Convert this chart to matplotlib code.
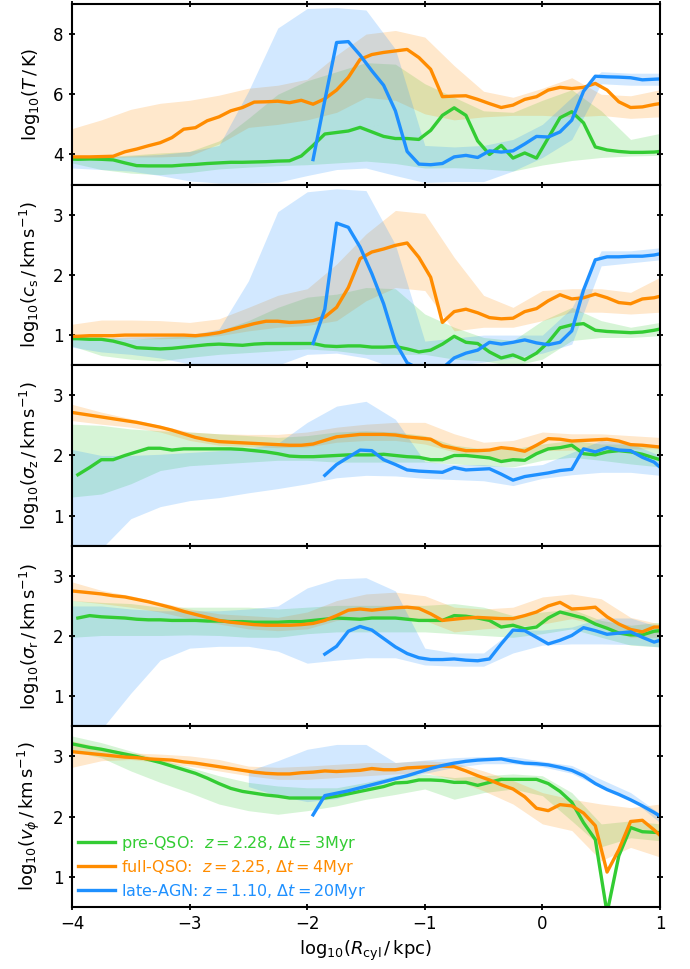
import numpy as np
import matplotlib
matplotlib.use("Agg")
import matplotlib.pyplot as plt

nan = np.nan

# radial grid of the profiles (bin centres) and coarser grid of the scatter bands
x_line = np.round(np.arange(-4.05, 1.06, 0.1), 2)
x_band = np.linspace(-4.0, 1.0, 21)

names = ["pre-QSO:  $z=2.28$, $\\Delta t=3$Myr",
         "full-QSO:  $z=2.25$, $\\Delta t=4$Myr",
         "late-AGN: $z=1.10$, $\\Delta t=20$Myr"]
colors = ["#33cc33", "#ff8c00", "#1e90ff"]

# ---- log T
T_green = [3.85, 3.84, 3.85, 3.84, 3.82, 3.72, 3.63, 3.62, 3.62, 3.62,
           3.65, 3.67, 3.70, 3.72, 3.74, 3.74, 3.75, 3.76, 3.78, 3.79,
           3.95, 4.30, 4.68, 4.73, 4.78, 4.90, 4.75, 4.60, 4.53, 4.53,
           4.50, 4.80, 5.30, 5.55, 5.30, 4.45, 4.00, 4.30, 3.88, 4.05,
           3.88, 4.55, 5.22, 5.42, 5.05, 4.25, 4.15, 4.10, 4.07, 4.07,
           4.08, 4.12]
T_orange = [3.92, 3.92, 3.92, 3.93, 3.94, 4.09, 4.18, 4.29, 4.39, 4.56,
            4.84, 4.89, 5.12, 5.25, 5.45, 5.56, 5.74, 5.75, 5.77, 5.72,
            5.80, 5.67, 5.85, 6.14, 6.56, 7.16, 7.32, 7.39, 7.44, 7.49,
            7.22, 6.83, 5.92, 5.94, 5.95, 5.83, 5.69, 5.56, 5.64, 5.83,
            5.92, 6.14, 6.23, 6.19, 6.23, 6.36, 6.14, 5.75, 5.56, 5.58,
            5.66, 5.72]
T_blue = [nan] * 21 + [3.83, 5.80, 7.72, 7.75, 7.30, 6.78, 6.30, 5.45, 4.10,
                       3.68, 3.66, 3.70, 3.92, 3.97, 3.90, 4.12, 4.08, 4.12, 4.35,
                       4.60, 4.58, 4.75, 5.14, 6.10, 6.60, 6.58, 6.57, 6.55, 6.48,
                       6.50, 6.52]
T_green_lo = [3.72, 3.50, 3.38, 3.33, 3.40, 3.52, 3.58, 3.63, 3.66, 3.72, 3.78,
              3.70, 3.55, 3.56, 3.52, 3.45, 3.65, 3.80, 3.90, 3.95, 3.97]
T_green_hi = [3.95, 3.93, 3.98, 4.05, 4.10, 4.45, 5.20, 6.00, 6.45, 6.75, 7.05,
              7.00, 6.35, 5.90, 5.45, 5.40, 5.80, 6.15, 5.45, 4.50, 4.70]
T_orange_lo = [3.85, 3.90, 3.92, 3.92, 3.95, 4.35, 4.90, 5.00, 5.15, 5.40, 5.90,
               5.80, 5.35, 5.15, 5.25, 5.30, 5.30, 5.25, 5.30, 5.20, 5.25]
T_orange_hi = [4.86, 5.15, 5.50, 5.70, 5.80, 5.97, 6.20, 6.30, 6.50, 7.30, 8.00,
               8.12, 7.90, 6.95, 6.10, 5.90, 6.20, 6.55, 6.00, 5.95, 6.15]
T_blue_lo = [3.55, 3.50, 3.45, 3.30, 3.12, 3.05, 3.05, 3.08, 3.30, 3.50, 3.55,
             3.30, 3.07, 3.10, 3.10, 3.45, 3.90, 4.50, 6.35, 6.30, 6.30]
T_blue_hi = [3.90, 3.90, 3.95, 4.00, 4.10, 4.30, 6.10, 8.20, 8.85, 8.88, 8.80,
             7.50, 4.30, 4.25, 4.30, 4.50, 5.00, 5.90, 6.75, 6.70, 6.70]

# ---- log c_s
cs_green = [0.94, 0.94, 0.93, 0.93, 0.90, 0.85, 0.79, 0.78, 0.77, 0.78,
            0.80, 0.82, 0.84, 0.85, 0.84, 0.83, 0.85, 0.86, 0.86, 0.86,
            0.86, 0.86, 0.82, 0.81, 0.82, 0.82, 0.80, 0.80, 0.81, 0.77,
            0.72, 0.75, 0.85, 0.98, 0.88, 0.86, 0.72, 0.62, 0.67, 0.59,
            0.70, 0.88, 1.12, 1.17, 1.19, 1.08, 1.06, 1.05, 1.04, 1.05,
            1.08, 1.12]
cs_orange = [0.98, 0.98, 0.99, 0.99, 0.99, 1.00, 1.00, 1.00, 1.00, 1.00,
             1.00, 0.99, 1.01, 1.04, 1.09, 1.14, 1.19, 1.23, 1.23, 1.21,
             1.22, 1.24, 1.30, 1.46, 1.79, 2.27, 2.38, 2.43, 2.49, 2.53,
             2.29, 1.96, 1.21, 1.39, 1.43, 1.37, 1.29, 1.27, 1.28, 1.39,
             1.44, 1.57, 1.67, 1.60, 1.62, 1.68, 1.62, 1.54, 1.52, 1.60,
             1.62, 1.67]
cs_blue = [nan] * 21 + [0.86, 1.43, 2.86, 2.79, 2.46, 2.02, 1.52, 0.88, 0.54,
                        0.44, 0.42, 0.45, 0.62, 0.70, 0.75, 0.88, 0.85, 0.88, 0.92,
                        0.87, 0.84, 0.88, 1.07, 1.75, 2.25, 2.30, 2.30, 2.31, 2.31,
                        2.33, 2.37]
cs_green_lo = [0.82, 0.66, 0.60, 0.57, 0.63, 0.68, 0.71, 0.74, 0.77, 0.74, 0.68,
               0.68, 0.68, 0.60, 0.57, 0.49, 0.60, 0.91, 0.96, 0.96, 0.99]
cs_green_hi = [0.99, 0.96, 0.93, 0.96, 0.99, 1.07, 1.24, 1.46, 1.63, 1.68, 1.79,
               1.77, 1.35, 1.13, 0.96, 0.91, 1.24, 1.46, 1.24, 1.13, 1.21]
cs_orange_lo = [0.93, 0.94, 0.94, 0.94, 0.95, 0.99, 1.07, 1.13, 1.16, 1.24, 1.57,
                1.79, 1.74, 1.07, 1.13, 1.13, 1.24, 1.38, 1.38, 1.35, 1.38]
cs_orange_hi = [1.18, 1.25, 1.25, 1.24, 1.21, 1.27, 1.46, 1.66, 1.77, 2.18, 2.68,
                3.07, 3.02, 2.29, 1.66, 1.46, 1.74, 1.77, 1.77, 1.71, 1.96]
cs_blue_lo = [0.80, 0.72, 0.68, 0.62, 0.52, 0.45, 0.45, 0.50, 0.68, 0.70, 0.62,
              0.45, 0.45, 0.50, 0.55, 0.62, 0.70, 0.85, 2.15, 2.20, 2.25]
cs_blue_hi = [0.95, 0.95, 0.97, 0.98, 1.00, 1.10, 1.90, 3.05, 3.38, 3.43, 3.40,
              2.50, 0.90, 0.95, 1.00, 1.00, 1.00, 1.45, 2.40, 2.40, 2.45]

# ---- log sigma_z
sz_green = [nan, 1.68, 1.80, 1.93, 1.93, 2.00, 2.06, 2.12, 2.12, 2.09,
            2.11, 2.11, 2.11, 2.11, 2.11, 2.10, 2.08, 2.06, 2.03, 1.99,
            1.98, 1.98, 1.99, 2.00, 2.01, 2.01, 2.01, 2.02, 2.00, 1.98,
            1.97, 1.93, 1.93, 2.00, 2.00, 1.98, 1.96, 1.90, 1.93, 1.92,
            2.03, 2.11, 2.13, 2.17, 2.03, 2.01, 2.06, 2.08, 2.06, 2.02,
            1.96, 1.90]
sz_orange = [2.73, 2.70, 2.67, 2.64, 2.61, 2.58, 2.55, 2.51, 2.47, 2.42,
             2.36, 2.30, 2.26, 2.23, 2.22, 2.21, 2.20, 2.19, 2.18, 2.17,
             2.17, 2.19, 2.25, 2.31, 2.33, 2.35, 2.35, 2.35, 2.34, 2.31,
             2.29, 2.27, 2.16, 2.12, 2.08, 2.08, 2.09, 2.13, 2.11, 2.07,
             2.17, 2.28, 2.27, 2.24, 2.25, 2.26, 2.27, 2.24, 2.18, 2.17,
             2.15, 2.13]
sz_blue = [nan] * 22 + [1.67, 1.85, 1.97, 2.09, 2.08, 1.93, 1.85, 1.76,
                        1.74, 1.73, 1.72, 1.80, 1.76, 1.77, 1.78, 1.69, 1.59, 1.65,
                        1.68, 1.71, 1.75, 1.77, 2.11, 2.06, 2.13, 2.09, 2.08, 1.97,
                        1.89, 1.72]
sz_green_lo = [1.31, 1.36, 1.53, 1.75, 1.83, 1.86, 1.89, 1.92, 1.92, 1.89, 1.89,
               1.89, 1.89, 1.86, 1.83, 1.81, 1.92, 1.97, 1.92, 1.86, 1.81]
sz_green_hi = [2.52, 2.50, 2.44, 2.41, 2.39, 2.36, 2.33, 2.30, 2.33, 2.39, 2.41,
               2.39, 2.33, 2.17, 2.11, 2.11, 2.19, 2.25, 2.19, 2.19, 2.14]
sz_orange_lo = [2.58, 2.52, 2.47, 2.39, 2.25, 2.17, 2.15, 2.13, 2.14, 2.22, 2.25,
                2.25, 2.19, 2.06, 1.95, 1.92, 2.08, 2.09, 2.11, 2.11, 2.11]
sz_orange_hi = [2.85, 2.72, 2.61, 2.50, 2.39, 2.36, 2.35, 2.35, 2.39, 2.47, 2.52,
                2.55, 2.55, 2.36, 2.22, 2.25, 2.39, 2.36, 2.36, 2.33, 2.30]
sz_blue_lo = [0.40, 0.45, 0.95, 1.15, 1.25, 1.30, 1.38, 1.45, 1.53, 1.63, 1.67,
              1.66, 1.62, 1.60, 1.58, 1.50, 1.62, 1.68, 1.72, 1.72, 1.67]
sz_blue_hi = [2.10, 2.00, 2.00, 2.02, 2.05, 2.08, 2.12, 2.20, 2.55, 2.82, 2.90,
              2.60, 1.90, 1.85, 1.85, 1.80, 1.85, 2.05, 2.25, 2.20, 2.00]

# ---- log sigma_r
sr_green = [nan, 2.30, 2.34, 2.32, 2.31, 2.30, 2.28, 2.27, 2.27, 2.26,
            2.26, 2.26, 2.25, 2.25, 2.24, 2.24, 2.23, 2.23, 2.23, 2.24,
            2.24, 2.26, 2.28, 2.30, 2.29, 2.28, 2.30, 2.30, 2.30, 2.28,
            2.26, 2.26, 2.26, 2.34, 2.33, 2.30, 2.26, 2.15, 2.18, 2.12,
            2.15, 2.30, 2.40, 2.35, 2.30, 2.20, 2.13, 2.05, 2.02, 2.02,
            2.08, 2.10]
sr_orange = [2.76, 2.74, 2.72, 2.70, 2.67, 2.65, 2.61, 2.57, 2.52, 2.47,
             2.41, 2.36, 2.31, 2.26, 2.23, 2.21, 2.19, 2.18, 2.18, 2.18,
             2.19, 2.21, 2.26, 2.34, 2.43, 2.45, 2.43, 2.45, 2.47, 2.48,
             2.46, 2.37, 2.26, 2.28, 2.30, 2.31, 2.30, 2.29, 2.29, 2.34,
             2.40, 2.50, 2.56, 2.45, 2.46, 2.48, 2.32, 2.20, 2.11, 2.07,
             2.15, 2.15]
sr_blue = [nan] * 22 + [1.70, 1.83, 2.08, 2.16, 2.10, 1.96, 1.82, 1.71,
                        1.64, 1.61, 1.61, 1.62, 1.60, 1.59, 1.62, 1.87, 2.10, 2.09,
                        1.98, 1.87, 1.93, 2.01, 2.14, 2.09, 2.03, 2.05, 2.07, 1.98,
                        1.90, 1.96]
sr_green_lo = [1.98, 2.01, 2.01, 2.01, 2.02, 2.01, 1.98, 1.98, 2.04, 2.07, 2.07,
               2.07, 2.07, 2.04, 2.01, 1.98, 2.04, 2.12, 1.98, 1.85, 1.82]
sr_green_hi = [2.59, 2.56, 2.54, 2.48, 2.48, 2.48, 2.48, 2.45, 2.48, 2.51, 2.51,
               2.51, 2.51, 2.54, 2.48, 2.34, 2.40, 2.45, 2.26, 2.18, 2.23]
sr_orange_lo = [2.59, 2.54, 2.48, 2.40, 2.29, 2.20, 2.12, 2.09, 2.12, 2.26, 2.31,
                2.34, 2.26, 2.07, 2.12, 2.15, 2.20, 2.29, 2.18, 1.98, 1.98]
sr_orange_hi = [2.90, 2.76, 2.67, 2.56, 2.45, 2.37, 2.34, 2.31, 2.40, 2.59, 2.70,
                2.73, 2.67, 2.48, 2.45, 2.48, 2.65, 2.70, 2.62, 2.31, 2.20]
sr_blue_lo = [0.40, 0.45, 1.05, 1.60, 1.80, 1.83, 1.83, 1.75, 1.55, 1.60, 1.64,
              1.64, 1.52, 1.50, 1.50, 1.72, 1.85, 1.87, 1.87, 1.86, 1.82]
sr_blue_hi = [2.50, 2.50, 2.45, 2.42, 2.42, 2.42, 2.45, 2.50, 2.80, 2.95, 2.97,
              2.75, 1.80, 1.72, 1.72, 2.10, 2.10, 2.15, 2.30, 2.30, 2.15]

# ---- log v_phi
vp_green = [3.23, 3.19, 3.15, 3.12, 3.08, 3.04, 3.00, 2.95, 2.90, 2.84,
            2.78, 2.72, 2.64, 2.55, 2.47, 2.42, 2.39, 2.36, 2.34, 2.31,
            2.31, 2.31, 2.31, 2.34, 2.38, 2.42, 2.46, 2.50, 2.56, 2.57,
            2.61, 2.61, 2.60, 2.57, 2.57, 2.52, 2.57, 2.62, 2.62, 2.62,
            2.62, 2.55, 2.42, 2.24, 1.90, 1.62, 0.40, 1.35, 1.82, 1.75,
            1.74, 1.73]
vp_orange = [3.09, 3.07, 3.05, 3.03, 3.01, 2.99, 2.98, 2.96, 2.95, 2.94,
             2.91, 2.89, 2.86, 2.83, 2.80, 2.77, 2.74, 2.72, 2.71, 2.71,
             2.73, 2.74, 2.76, 2.75, 2.76, 2.77, 2.80, 2.78, 2.78, 2.81,
             2.82, 2.83, 2.84, 2.83, 2.76, 2.68, 2.61, 2.53, 2.46, 2.33,
             2.14, 2.10, 2.20, 2.18, 2.06, 1.85, 1.08, 1.45, 1.92, 1.94,
             1.78, 1.60]
vp_blue = [nan] * 21 + [2.03, 2.35, 2.39, 2.43, 2.48, 2.53, 2.58, 2.63, 2.68,
                        2.74, 2.80, 2.85, 2.89, 2.92, 2.94, 2.95, 2.96, 2.92, 2.89,
                        2.88, 2.86, 2.82, 2.77, 2.68, 2.55, 2.45, 2.37, 2.28, 2.18,
                        2.07, 1.95]
vp_green_lo = [3.09, 2.98, 2.76, 2.57, 2.40, 2.21, 2.10, 2.04, 2.10, 2.18, 2.29,
               2.37, 2.46, 2.29, 2.40, 2.46, 2.35, 1.93, 1.50, 1.65, 1.60]
vp_green_hi = [3.34, 3.23, 3.09, 2.95, 2.82, 2.68, 2.57, 2.51, 2.48, 2.48, 2.57,
               2.68, 2.71, 2.65, 2.68, 2.71, 2.68, 2.40, 1.88, 1.93, 1.88]
vp_orange_lo = [2.82, 2.93, 2.95, 2.90, 2.84, 2.76, 2.68, 2.62, 2.62, 2.65, 2.68,
                2.71, 2.73, 2.62, 2.43, 2.21, 1.88, 1.77, 1.27, 1.49, 1.33]
vp_orange_hi = [3.26, 3.15, 3.06, 3.04, 3.01, 2.95, 2.84, 2.82, 2.84, 2.87, 2.90,
                2.90, 2.93, 2.90, 2.76, 2.60, 2.40, 2.29, 2.21, 2.15, 2.21]
vp_blue_lo = [nan] * 6 + [2.50, 2.35, 2.25, 2.30, 2.45, 2.62, 2.72, 2.82, 2.88,
                          2.88, 2.83, 2.72, 2.48, 2.30, 1.90]
vp_blue_hi = [nan] * 6 + [2.76, 2.93, 3.12, 3.20, 3.20, 2.90, 2.94, 2.98, 3.00,
                          3.00, 2.92, 2.85, 2.62, 2.40, 2.05]

panels = [
    (r"$\mathrm{log}_{10}(T\,/\,\mathrm{K})$", (3, 9), [4, 6, 8],
     [T_green, T_orange, T_blue],
     [(T_green_lo, T_green_hi), (T_orange_lo, T_orange_hi), (T_blue_lo, T_blue_hi)]),
    (r"$\mathrm{log}_{10}(c_\mathrm{s}\,/\,\mathrm{km\,s^{-1}})$", (0.5, 3.5), [1, 2, 3],
     [cs_green, cs_orange, cs_blue],
     [(cs_green_lo, cs_green_hi), (cs_orange_lo, cs_orange_hi), (cs_blue_lo, cs_blue_hi)]),
    (r"$\mathrm{log}_{10}(\sigma_\mathrm{z}\,/\,\mathrm{km\,s^{-1}})$", (0.5, 3.5), [1, 2, 3],
     [sz_green, sz_orange, sz_blue],
     [(sz_green_lo, sz_green_hi), (sz_orange_lo, sz_orange_hi), (sz_blue_lo, sz_blue_hi)]),
    (r"$\mathrm{log}_{10}(\sigma_\mathrm{r}\,/\,\mathrm{km\,s^{-1}})$", (0.5, 3.5), [1, 2, 3],
     [sr_green, sr_orange, sr_blue],
     [(sr_green_lo, sr_green_hi), (sr_orange_lo, sr_orange_hi), (sr_blue_lo, sr_blue_hi)]),
    (r"$\mathrm{log}_{10}(v_\phi\,/\,\mathrm{km\,s^{-1}})$", (0.5, 3.5), [1, 2, 3],
     [vp_green, vp_orange, vp_blue],
     [(vp_green_lo, vp_green_hi), (vp_orange_lo, vp_orange_hi), (vp_blue_lo, vp_blue_hi)]),
]

fig, axes = plt.subplots(5, 1, figsize=(6.9, 9.69), sharex=True)
fig.subplots_adjust(left=0.1043, right=0.9565, top=0.9959, bottom=0.064, hspace=0)

for ax, (ylab, ylim, yticks, lines, bands) in zip(axes, panels):
    # shaded scatter first, then the median profiles on top
    for (lo, hi), c in zip(bands, colors):
        ax.fill_between(x_band, lo, hi, color=c, alpha=0.2, lw=0)
    for y, c, lab in zip(lines, colors, names):
        ax.plot(x_line, y, color=c, lw=2.4, label=lab)
    ax.set_ylim(*ylim)
    ax.set_yticks(yticks)
    ax.set_ylabel(ylab, fontsize=13, labelpad=8)
    ax.tick_params(direction="inout", length=5, width=1.3, top=True, right=True,
                   labelsize=12)
    for s in ax.spines.values():
        s.set_linewidth(1.5)

axes[-1].set_xlim(-4, 1)
axes[-1].set_xticks([-4, -3, -2, -1, 0, 1])
axes[-1].set_xlabel(r"$\mathrm{log}_{10}(R_\mathrm{cyl}\,/\,\mathrm{kpc})$", fontsize=13)
axes[-1].legend(loc="lower left", frameon=False, fontsize=11.5, handlelength=2.3,
                handletextpad=0.4, labelspacing=0.3, borderaxespad=0.0,
                labelcolor="linecolor")
fig.align_ylabels(axes)

plt.savefig("out.png", dpi=100)
